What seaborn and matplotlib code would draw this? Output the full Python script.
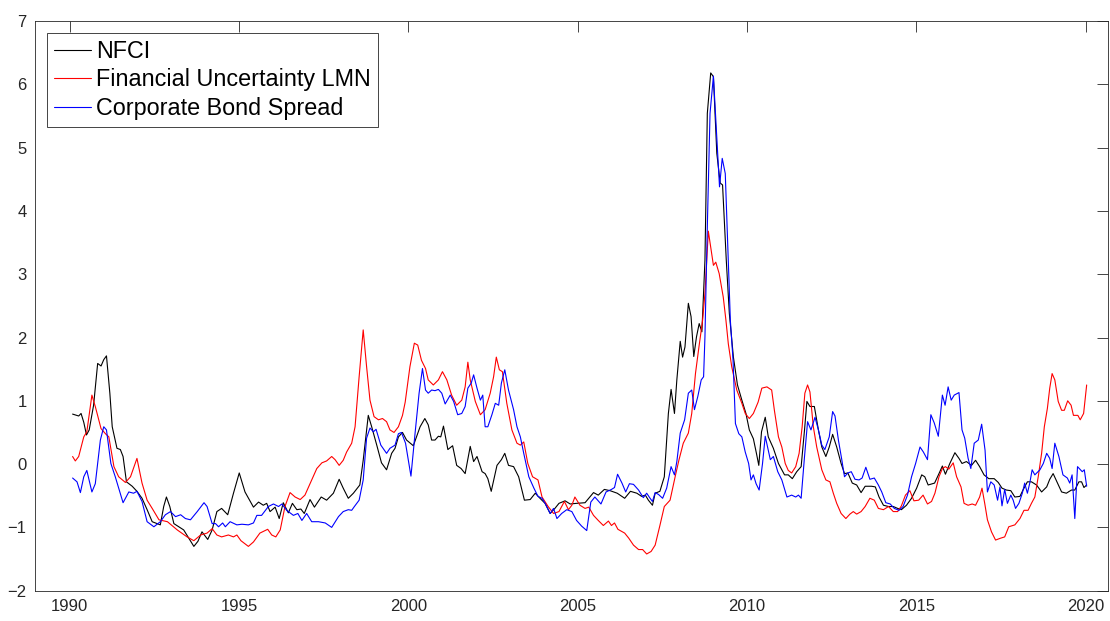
import matplotlib
matplotlib.use("Agg")
import matplotlib.pyplot as plt
import seaborn as sns

# NFCI (black)
nfci_year = [1990.09, 1990.27, 1990.34, 1990.42, 1990.50, 1990.58, 1990.71, 1990.83, 1990.93, 1991.01,
             1991.09, 1991.19, 1991.26, 1991.40, 1991.50, 1991.58, 1991.68, 1991.85, 1991.99, 1992.14,
             1992.29, 1992.44, 1992.68, 1992.78, 1992.86, 1992.96, 1993.08, 1993.37, 1993.67, 1993.79,
             1993.91, 1994.08, 1994.21, 1994.35, 1994.49, 1994.67, 1994.84, 1995.01, 1995.18, 1995.43,
             1995.58, 1995.72, 1995.82, 1995.92, 1996.07, 1996.19, 1996.31, 1996.46, 1996.58, 1996.71,
             1996.83, 1996.93, 1997.10, 1997.23, 1997.43, 1997.59, 1997.79, 1997.96, 1998.08, 1998.23,
             1998.38, 1998.57, 1998.67, 1998.82, 1998.92, 1999.07, 1999.21, 1999.36, 1999.51, 1999.61,
             1999.71, 1999.83, 1999.95, 2000.15, 2000.35, 2000.49, 2000.59, 2000.69, 2000.79, 2000.89,
             2000.96, 2001.04, 2001.17, 2001.31, 2001.43, 2001.56, 2001.68, 2001.83, 2001.93, 2002.03,
             2002.18, 2002.27, 2002.35, 2002.45, 2002.62, 2002.75, 2002.85, 2002.96, 2003.11, 2003.26,
             2003.43, 2003.60, 2003.75, 2003.89, 2004.04, 2004.19, 2004.33, 2004.45, 2004.63, 2004.78,
             2004.97, 2005.22, 2005.47, 2005.61, 2005.79, 2005.96, 2006.17, 2006.39, 2006.56, 2006.75,
             2006.89, 2007.00, 2007.09, 2007.21, 2007.29, 2007.43, 2007.56, 2007.63, 2007.68, 2007.76,
             2007.86, 2007.93, 2008.03, 2008.10, 2008.17, 2008.27, 2008.35, 2008.43, 2008.51, 2008.59,
             2008.67, 2008.76, 2008.83, 2008.93, 2009.01, 2009.11, 2009.21, 2009.28, 2009.39, 2009.48,
             2009.60, 2009.72, 2009.85, 2009.97, 2010.07, 2010.19, 2010.28, 2010.35, 2010.43, 2010.54,
             2010.63, 2010.78, 2010.93, 2011.11, 2011.22, 2011.34, 2011.47, 2011.60, 2011.70, 2011.77,
             2011.86, 2011.99, 2012.11, 2012.21, 2012.33, 2012.43, 2012.53, 2012.65, 2012.78, 2012.88,
             2012.98, 2013.11, 2013.24, 2013.37, 2013.49, 2013.68, 2013.79, 2013.90, 2014.03, 2014.18,
             2014.32, 2014.45, 2014.56, 2014.71, 2014.86, 2015.01, 2015.16, 2015.25, 2015.35, 2015.54,
             2015.67, 2015.77, 2015.86, 2015.99, 2016.14, 2016.26, 2016.35, 2016.48, 2016.63, 2016.75,
             2016.87, 2017.00, 2017.14, 2017.30, 2017.42, 2017.53, 2017.66, 2017.79, 2017.91, 2018.06,
             2018.15, 2018.28, 2018.40, 2018.55, 2018.70, 2018.85, 2018.94, 2019.04, 2019.17, 2019.29,
             2019.43, 2019.58, 2019.68, 2019.80, 2019.88, 2019.95, 2020.03]
nfci = [0.79, 0.76, 0.80, 0.66, 0.46, 0.54, 0.93, 1.59, 1.55, 1.65,
        1.71, 1.12, 0.59, 0.25, 0.23, 0.12, -0.28, -0.35, -0.43, -0.54,
        -0.72, -0.91, -0.96, -0.67, -0.52, -0.67, -0.94, -1.04, -1.30, -1.22,
        -1.07, -1.19, -1.04, -0.75, -0.70, -0.80, -0.46, -0.14, -0.44, -0.68,
        -0.60, -0.65, -0.62, -0.75, -0.68, -0.86, -0.61, -0.77, -0.62, -0.72,
        -0.71, -0.78, -0.56, -0.68, -0.52, -0.57, -0.46, -0.24, -0.38, -0.54,
        -0.46, -0.33, 0.06, 0.77, 0.59, 0.30, 0.02, -0.09, 0.17, 0.25,
        0.43, 0.50, 0.38, 0.29, 0.59, 0.72, 0.62, 0.38, 0.38, 0.44,
        0.43, 0.60, 0.23, 0.29, -0.02, -0.07, -0.15, 0.28, 0.04, 0.12,
        -0.12, -0.15, -0.23, -0.43, -0.02, 0.07, 0.17, -0.02, -0.04, -0.20,
        -0.57, -0.56, -0.46, -0.54, -0.62, -0.78, -0.70, -0.62, -0.58, -0.63,
        -0.62, -0.61, -0.45, -0.49, -0.40, -0.42, -0.46, -0.54, -0.43, -0.46,
        -0.51, -0.49, -0.57, -0.65, -0.46, -0.43, -0.20, 0.38, 0.80, 1.18,
        0.80, 1.33, 1.94, 1.69, 1.85, 2.54, 2.33, 1.70, 2.01, 2.22,
        2.09, 3.22, 5.54, 6.18, 6.12, 4.91, 4.44, 4.41, 3.22, 2.38,
        1.69, 1.25, 1.01, 0.80, 0.54, 0.40, 0.17, -0.02, 0.51, 0.74,
        0.43, 0.25, 0.01, -0.17, -0.17, -0.23, -0.12, -0.04, 0.54, 0.99,
        0.91, 0.91, 0.54, 0.27, 0.12, 0.27, 0.47, 0.27, 0.01, -0.15,
        -0.14, -0.30, -0.33, -0.45, -0.35, -0.35, -0.36, -0.52, -0.65, -0.67,
        -0.67, -0.70, -0.72, -0.65, -0.54, -0.38, -0.17, -0.20, -0.33, -0.30,
        -0.15, -0.03, -0.16, 0.01, 0.18, 0.09, 0.01, 0.04, -0.02, 0.06,
        -0.04, -0.17, -0.23, -0.23, -0.29, -0.38, -0.41, -0.42, -0.52, -0.51,
        -0.41, -0.28, -0.28, -0.33, -0.44, -0.36, -0.24, -0.15, -0.30, -0.44,
        -0.46, -0.41, -0.41, -0.28, -0.28, -0.37, -0.33]

# Financial Uncertainty LMN (red)
fu_year = [1990.09, 1990.17, 1990.27, 1990.42, 1990.51, 1990.66, 1990.76, 1990.93, 1991.06, 1991.16,
           1991.31, 1991.45, 1991.65, 1991.80, 1991.99, 1992.14, 1992.29, 1992.44, 1992.64, 1992.89,
           1993.18, 1993.47, 1993.67, 1993.87, 1994.06, 1994.21, 1994.35, 1994.49, 1994.69, 1994.84,
           1994.94, 1995.06, 1995.28, 1995.43, 1995.62, 1995.85, 1995.97, 1996.09, 1996.22, 1996.36,
           1996.51, 1996.66, 1996.81, 1996.95, 1997.15, 1997.30, 1997.45, 1997.59, 1997.74, 1997.84,
           1997.96, 1998.08, 1998.18, 1998.33, 1998.43, 1998.55, 1998.67, 1998.77, 1998.87, 1998.99,
           1999.12, 1999.24, 1999.36, 1999.46, 1999.58, 1999.71, 1999.83, 1999.91, 2000.05, 2000.18,
           2000.28, 2000.39, 2000.51, 2000.59, 2000.74, 2000.89, 2001.01, 2001.14, 2001.28, 2001.43,
           2001.58, 2001.68, 2001.76, 2001.83, 2001.98, 2002.13, 2002.27, 2002.42, 2002.52, 2002.60,
           2002.69, 2002.78, 2002.91, 2003.06, 2003.21, 2003.31, 2003.41, 2003.53, 2003.67, 2003.83,
           2003.95, 2004.13, 2004.29, 2004.45, 2004.61, 2004.73, 2004.83, 2004.92, 2005.07, 2005.22,
           2005.33, 2005.47, 2005.61, 2005.76, 2005.91, 2006.00, 2006.09, 2006.19, 2006.39, 2006.51,
           2006.65, 2006.80, 2006.92, 2007.04, 2007.17, 2007.29, 2007.43, 2007.56, 2007.73, 2007.88,
           2007.99, 2008.12, 2008.27, 2008.37, 2008.48, 2008.57, 2008.69, 2008.76, 2008.86, 2008.93,
           2009.01, 2009.08, 2009.18, 2009.30, 2009.38, 2009.45, 2009.55, 2009.70, 2009.85, 2009.95,
           2010.07, 2010.19, 2010.33, 2010.44, 2010.59, 2010.73, 2010.81, 2010.93, 2011.03, 2011.13,
           2011.22, 2011.32, 2011.44, 2011.54, 2011.63, 2011.71, 2011.79, 2011.86, 2011.96, 2012.06,
           2012.21, 2012.33, 2012.45, 2012.55, 2012.65, 2012.78, 2012.92, 2013.04, 2013.14, 2013.24,
           2013.37, 2013.49, 2013.63, 2013.76, 2013.88, 2014.03, 2014.18, 2014.32, 2014.45, 2014.56,
           2014.68, 2014.81, 2014.93, 2015.07, 2015.20, 2015.33, 2015.45, 2015.55, 2015.67, 2015.77,
           2015.86, 2015.96, 2016.09, 2016.19, 2016.32, 2016.41, 2016.53, 2016.65, 2016.75, 2016.87,
           2016.94, 2017.02, 2017.10, 2017.22, 2017.34, 2017.49, 2017.61, 2017.73, 2017.91, 2018.06,
           2018.18, 2018.30, 2018.40, 2018.50, 2018.60, 2018.70, 2018.78, 2018.87, 2018.94, 2019.01,
           2019.09, 2019.19, 2019.29, 2019.37, 2019.47, 2019.57, 2019.64, 2019.77, 2019.84, 2019.94,
           2020.03]
fu = [0.12, 0.05, 0.12, 0.43, 0.51, 1.09, 0.91, 0.56, 0.48, 0.43,
      -0.04, -0.20, -0.29, -0.20, 0.09, -0.30, -0.57, -0.70, -0.88, -0.91,
      -1.04, -1.15, -1.21, -1.12, -1.09, -1.02, -1.12, -1.15, -1.12, -1.15,
      -1.12, -1.21, -1.30, -1.23, -1.09, -1.03, -1.12, -1.15, -1.04, -0.67,
      -0.45, -0.52, -0.56, -0.49, -0.25, -0.07, 0.02, 0.05, 0.12, 0.07,
      -0.02, 0.06, 0.19, 0.33, 0.59, 1.38, 2.12, 1.54, 1.01, 0.75,
      0.70, 0.72, 0.67, 0.54, 0.50, 0.59, 0.77, 0.98, 1.54, 1.91,
      1.88, 1.64, 1.51, 1.33, 1.25, 1.33, 1.46, 1.33, 1.09, 0.93,
      1.01, 1.22, 1.61, 1.33, 0.99, 0.78, 0.86, 1.12, 1.38, 1.69,
      1.49, 1.46, 0.96, 0.54, 0.33, 0.30, 0.35, 0.01, -0.20, -0.25,
      -0.52, -0.67, -0.78, -0.75, -0.59, -0.72, -0.65, -0.52, -0.65, -0.70,
      -0.68, -0.81, -0.89, -0.97, -0.90, -0.97, -0.93, -1.03, -1.09, -1.17,
      -1.28, -1.35, -1.35, -1.42, -1.38, -1.28, -0.97, -0.67, -0.57, -0.20,
      0.06, 0.33, 0.49, 0.80, 1.43, 1.80, 2.27, 2.70, 3.68, 3.43,
      3.14, 3.19, 3.01, 2.64, 2.27, 1.90, 1.54, 1.17, 0.96, 0.80,
      0.72, 0.80, 0.98, 1.20, 1.22, 1.17, 0.85, 0.43, 0.27, 0.01,
      -0.10, -0.14, -0.04, 0.17, 0.59, 1.12, 1.25, 1.14, 0.59, 0.27,
      -0.09, -0.25, -0.28, -0.46, -0.62, -0.78, -0.86, -0.79, -0.75, -0.79,
      -0.75, -0.67, -0.54, -0.57, -0.70, -0.72, -0.67, -0.75, -0.75, -0.66,
      -0.49, -0.42, -0.58, -0.57, -0.49, -0.63, -0.59, -0.46, -0.20, -0.07,
      -0.04, -0.08, 0.02, -0.20, -0.36, -0.62, -0.65, -0.63, -0.65, -0.52,
      -0.38, -0.62, -0.88, -1.07, -1.20, -1.17, -1.15, -0.99, -0.96, -0.86,
      -0.73, -0.73, -0.62, -0.52, -0.20, 0.17, 0.59, 0.88, 1.20, 1.43,
      1.33, 0.99, 0.85, 0.85, 1.00, 0.93, 0.77, 0.77, 0.70, 0.80,
      1.25]

# Corporate Bond Spread (blue)
cbs_year = [1990.09, 1990.22, 1990.32, 1990.42, 1990.51, 1990.66, 1990.76, 1990.91, 1991.01, 1991.09,
            1991.22, 1991.35, 1991.58, 1991.75, 1991.89, 1991.99, 1992.14, 1992.29, 1992.49, 1992.68,
            1992.83, 1992.98, 1993.13, 1993.28, 1993.42, 1993.57, 1993.77, 1993.97, 1994.06, 1994.21,
            1994.31, 1994.40, 1994.52, 1994.60, 1994.74, 1994.94, 1995.09, 1995.28, 1995.43, 1995.53,
            1995.67, 1995.87, 1996.02, 1996.17, 1996.27, 1996.41, 1996.61, 1996.74, 1996.86, 1997.00,
            1997.15, 1997.35, 1997.55, 1997.74, 1997.94, 1998.08, 1998.23, 1998.33, 1998.41, 1998.55,
            1998.67, 1998.77, 1998.87, 1998.97, 1999.05, 1999.19, 1999.36, 1999.46, 1999.61, 1999.71,
            1999.80, 1999.92, 2000.08, 2000.20, 2000.32, 2000.42, 2000.51, 2000.59, 2000.69, 2000.79,
            2000.89, 2000.99, 2001.09, 2001.24, 2001.34, 2001.46, 2001.58, 2001.68, 2001.76, 2001.86,
            2001.93, 2002.03, 2002.13, 2002.20, 2002.27, 2002.35, 2002.47, 2002.57, 2002.67, 2002.75,
            2002.85, 2002.96, 2003.11, 2003.21, 2003.31, 2003.41, 2003.56, 2003.71, 2003.83, 2003.95,
            2004.04, 2004.19, 2004.29, 2004.39, 2004.53, 2004.68, 2004.83, 2004.97, 2005.12, 2005.27,
            2005.39, 2005.51, 2005.69, 2005.84, 2006.00, 2006.09, 2006.18, 2006.31, 2006.42, 2006.53,
            2006.65, 2006.80, 2006.94, 2007.04, 2007.14, 2007.21, 2007.29, 2007.39, 2007.51, 2007.63,
            2007.76, 2007.86, 2007.93, 2008.03, 2008.16, 2008.27, 2008.37, 2008.45, 2008.55, 2008.65,
            2008.72, 2008.76, 2008.83, 2008.91, 2009.01, 2009.11, 2009.19, 2009.27, 2009.36, 2009.43,
            2009.51, 2009.59, 2009.66, 2009.76, 2009.85, 2009.95, 2010.05, 2010.12, 2010.19, 2010.27,
            2010.36, 2010.46, 2010.54, 2010.69, 2010.78, 2010.91, 2011.03, 2011.18, 2011.32, 2011.44,
            2011.52, 2011.60, 2011.70, 2011.79, 2011.89, 2012.01, 2012.11, 2012.21, 2012.30, 2012.43,
            2012.53, 2012.60, 2012.70, 2012.80, 2012.88, 2012.98, 2013.08, 2013.19, 2013.31, 2013.40,
            2013.51, 2013.63, 2013.76, 2013.88, 2013.98, 2014.10, 2014.23, 2014.35, 2014.49, 2014.61,
            2014.74, 2014.86, 2014.98, 2015.11, 2015.21, 2015.33, 2015.43, 2015.53, 2015.65, 2015.77,
            2015.85, 2015.94, 2016.03, 2016.12, 2016.26, 2016.35, 2016.43, 2016.53, 2016.61, 2016.71,
            2016.83, 2016.93, 2017.03, 2017.10, 2017.20, 2017.30, 2017.40, 2017.47, 2017.53, 2017.61,
            2017.69, 2017.79, 2017.86, 2017.93, 2018.03, 2018.13, 2018.20, 2018.28, 2018.35, 2018.42,
            2018.50, 2018.65, 2018.75, 2018.85, 2018.94, 2019.01, 2019.09, 2019.21, 2019.33, 2019.46,
            2019.53, 2019.60, 2019.68, 2019.76, 2019.90, 2019.96, 2020.03]
cbs = [-0.22, -0.28, -0.45, -0.20, -0.10, -0.44, -0.31, 0.38, 0.59, 0.54,
       0.01, -0.20, -0.61, -0.44, -0.46, -0.43, -0.59, -0.91, -0.99, -0.91,
       -0.80, -0.75, -0.83, -0.80, -0.86, -0.88, -0.75, -0.61, -0.67, -0.94,
       -0.94, -0.99, -0.93, -0.99, -0.91, -0.96, -0.95, -0.96, -0.93, -0.81,
       -0.81, -0.67, -0.63, -0.67, -0.63, -0.73, -0.81, -0.78, -0.89, -0.78,
       -0.91, -0.91, -0.93, -1.00, -0.83, -0.75, -0.72, -0.73, -0.67, -0.57,
       -0.25, 0.41, 0.57, 0.51, 0.55, 0.30, 0.17, 0.25, 0.30, 0.48,
       0.50, 0.33, -0.19, 0.48, 1.12, 1.51, 1.17, 1.12, 1.17, 1.16,
       1.18, 1.12, 0.95, 1.09, 0.99, 0.78, 0.80, 0.91, 1.20, 1.28,
       1.41, 1.20, 1.01, 1.09, 0.59, 0.59, 0.78, 0.96, 0.93, 1.28,
       1.49, 1.17, 0.86, 0.59, 0.43, 0.17, -0.20, -0.38, -0.51, -0.54,
       -0.62, -0.78, -0.70, -0.86, -0.78, -0.72, -0.75, -0.89, -0.98, -1.05,
       -0.60, -0.52, -0.63, -0.44, -0.40, -0.37, -0.16, -0.30, -0.44, -0.31,
       -0.32, -0.41, -0.53, -0.46, -0.54, -0.59, -0.45, -0.48, -0.54, -0.38,
       -0.04, -0.17, 0.04, 0.49, 0.70, 1.12, 1.17, 0.86, 1.07, 1.33,
       1.38, 2.01, 3.75, 5.54, 6.13, 5.17, 4.38, 4.83, 4.59, 3.49,
       2.27, 1.64, 0.64, 0.48, 0.43, 0.19, 0.01, -0.25, -0.17, -0.31,
       -0.41, 0.01, 0.44, 0.07, 0.12, -0.12, -0.25, -0.52, -0.49, -0.52,
       -0.49, -0.54, 0.12, 0.67, 0.54, 0.74, 0.54, 0.30, 0.23, 0.43,
       0.83, 0.76, 0.38, 0.07, -0.20, -0.14, -0.12, -0.24, -0.25, -0.22,
       -0.05, -0.24, -0.22, -0.33, -0.44, -0.61, -0.63, -0.70, -0.73, -0.67,
       -0.49, -0.20, 0.01, 0.27, 0.19, 0.07, 0.78, 0.65, 0.44, 1.09,
       0.93, 1.22, 1.01, 1.09, 1.13, 0.54, 0.41, 0.09, -0.07, 0.33,
       0.38, 0.63, 0.22, -0.44, -0.28, -0.33, -0.57, -0.36, -0.66, -0.40,
       -0.62, -0.49, -0.57, -0.70, -0.62, -0.46, -0.30, -0.46, -0.30, -0.09,
       -0.17, -0.09, 0.01, 0.17, 0.09, -0.07, 0.33, 0.12, -0.17, -0.22,
       -0.30, -0.17, -0.86, -0.04, -0.12, -0.09, -0.35]

labels = ['NFCI', 'Financial Uncertainty LMN', 'Corporate Bond Spread']
x_ticks = [1990, 1995, 2000, 2005, 2010, 2015, 2020]
y_ticks = [-2, -1, 0, 1, 2, 3, 4, 5, 6, 7]

sns.set_style("white")
plt.rcParams['font.family'] = ['Liberation Sans', 'DejaVu Sans']

fig = plt.figure(figsize=(11.1, 6.21), dpi=100)
ax = fig.add_axes([35 / 1110, 30.3 / 621, 1073 / 1110, 569.7 / 621])

sns.lineplot(x=nfci_year, y=nfci, ax=ax, color='black', linewidth=0.8,
             label=labels[0], estimator=None, sort=False)
sns.lineplot(x=fu_year, y=fu, ax=ax, color='#ff0000', linewidth=0.8,
             label=labels[1], estimator=None, sort=False)
sns.lineplot(x=cbs_year, y=cbs, ax=ax, color='#0000ff', linewidth=0.8,
             label=labels[2], estimator=None, sort=False)

ax.set_xlim(1988.98, 2020.66)
ax.set_ylim(-2, 7)
ax.set_xticks(x_ticks)
ax.set_yticks(y_ticks)
ax.set_xlabel('')
ax.set_ylabel('')

ax.tick_params(direction='in', length=7.7, width=0.6, top=True, right=True,
               labelsize=12, color='#262626', labelcolor='#262626', pad=6)
for s in ax.spines.values():
    s.set_visible(True)
    s.set_linewidth(0.6)
    s.set_color('#262626')

leg = ax.legend(loc='upper left', bbox_to_anchor=(12 / 1073, 1 - 12 / 569.7),
                borderaxespad=0, frameon=True, fancybox=False, framealpha=1,
                edgecolor='#262626', fontsize=16.8, handlelength=1.6,
                handletextpad=0.2, labelspacing=0.23, borderpad=0.3,
                labelcolor='black')
leg.get_frame().set_linewidth(0.6)

fig.savefig('out.png', dpi=100)
